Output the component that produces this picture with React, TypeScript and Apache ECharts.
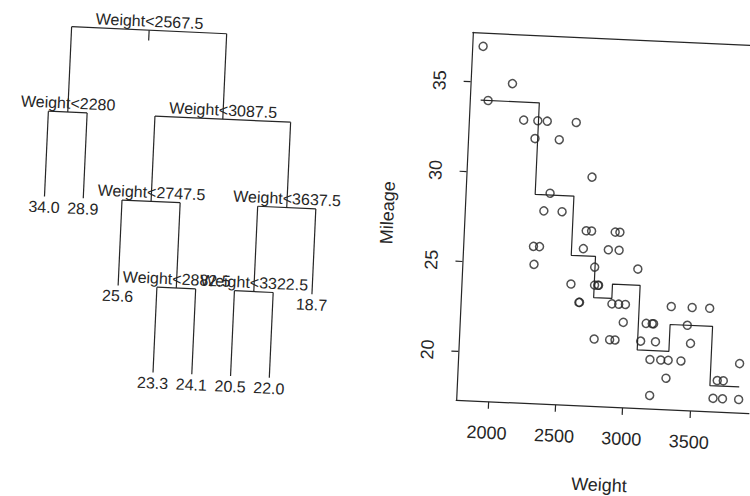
import React, { useEffect, useRef } from "react";
import * as echarts from "echarts";

// ---- Scatter data (Weight vs Mileage) ----
const weight = [
  2560, 2345, 1845, 2260, 2440, 2285, 2275, 2350, 2295, 1900, 2390, 2075, 2330,
  3320, 2885, 3310, 2695, 2170, 2710, 2775, 2840, 2485,
  2670, 2640, 2655, 3065, 2750, 2920, 2780, 2745, 3110, 2920, 2645, 2575, 2935, 2920, 2985,
  3265, 2880, 2975, 3450, 3145, 3190, 3610, 2885, 3480, 3200, 2765, 3220, 3480,
  3325, 3855, 3850,
  3195, 3735, 3665, 3735, 3415, 3185, 3690,
];
const mileage = [
  33, 33, 37, 32, 32, 26, 33, 28, 25, 34, 29, 35, 26,
  20, 27, 19, 30, 33, 27, 24, 26, 28,
  27, 23, 26, 25, 24, 26, 24, 25, 21, 21, 23, 24, 23, 27, 23,
  20, 21, 22, 22, 22, 22, 23, 23, 21, 22, 21, 21, 23,
  23, 18, 20,
  18, 18, 18, 19, 20, 20, 19,
];
const xTicks = [2000, 2500, 3000, 3500];
const yTicks = [20, 25, 30, 35];

// ---- Regression tree ----
type TNode = number | [string, TNode, TNode];
const tree: TNode = [
  "Weight<2567.5",
  ["Weight<2280", 34.0, 28.9],
  [
    "Weight<3087.5",
    ["Weight<2747.5", 25.6, ["Weight<2882.5", 23.3, 24.1]],
    ["Weight<3637.5", ["Weight<3322.5", 20.5, 22.0], 18.7],
  ],
];
const cutPoints = [2280, 2567.5, 2747.5, 2882.5, 3087.5, 3322.5, 3637.5];

const segs: number[][] = [];
const texts: { x: number; d: number; text: string; leaf: boolean }[] = [];
const leaves: number[] = [];
function place(node: TNode, depth: number): number {
  if (typeof node === "number") {
    const x = leaves.length + 1;
    leaves.push(node);
    texts.push({ x, d: depth, text: node.toFixed(1), leaf: true });
    return x;
  }
  const xl = place(node[1], depth + 1);
  const xr = place(node[2], depth + 1);
  const x = (xl + xr) / 2;
  segs.push([xl, depth, xr, depth], [xl, depth, xl, depth + 1], [xr, depth, xr, depth + 1]);
  texts.push({ x, d: depth, text: node[0], leaf: false });
  return x;
}
const rootX = place(tree, 0);
segs.push([rootX, 0, rootX, 0.12]);

const wMin = Math.min(...weight);
const wMax = Math.max(...weight);
const mMin = Math.min(...mileage);
const mMax = Math.max(...mileage);
const xPad = (wMax - wMin) * 0.04;
const yPad = (mMax - mMin) * 0.04;

const edges = [wMin, ...cutPoints, wMax];
const stepPts: number[][] = [];
leaves.forEach((m, i) => {
  stepPts.push([edges[i], m], [edges[i + 1], m]);
});

const font = "'Liberation Sans', Arial, Helvetica, sans-serif";
const ink = "#262626";

export default function App() {
  const ref = useRef<HTMLDivElement>(null);
  useEffect(() => {
    if (!ref.current) return;
    const chart = echarts.init(ref.current, undefined, { renderer: "svg" });
    const lineStyle = { color: ink, width: 1.2 };
    chart.setOption({
      animation: false,
      backgroundColor: "#ffffff",
      textStyle: { fontFamily: font },
      grid: [
        { left: 463, top: 28, width: 293, height: 368.5 },
        { left: 3.7, top: 40.7, width: 349.2, height: 341.8 },
      ],
      xAxis: [
        {
          gridIndex: 0,
          type: "value",
          min: wMin - xPad,
          max: wMax + xPad,
          position: "bottom",
          axisLine: { show: true, onZero: false, lineStyle },
          axisTick: { show: true, length: 7, customValues: xTicks, lineStyle },
          axisLabel: {
            customValues: xTicks,
            fontSize: 18,
            color: ink,
            margin: 22,
            fontFamily: font,
            formatter: (v: number) => String(v),
          },
          splitLine: { show: false },
          name: "Weight",
          nameLocation: "middle",
          nameGap: 69,
          nameTextStyle: { fontSize: 18, color: ink, fontFamily: font },
        },
        {
          gridIndex: 0,
          type: "value",
          min: wMin - xPad,
          max: wMax + xPad,
          position: "top",
          axisLine: { show: true, onZero: false, lineStyle },
          axisTick: { show: false },
          axisLabel: { show: false },
          splitLine: { show: false },
        },
        { gridIndex: 1, type: "value", min: 0, max: 9, show: false },
      ],
      yAxis: [
        {
          gridIndex: 0,
          type: "value",
          min: mMin - yPad,
          max: mMax + yPad,
          axisLine: { show: true, onZero: false, lineStyle },
          axisTick: { show: true, length: 7, customValues: yTicks, lineStyle },
          axisLabel: {
            customValues: yTicks,
            rotate: 90,
            fontSize: 18,
            color: ink,
            margin: 22,
            fontFamily: font,
            formatter: (v: number) => String(v),
          },
          splitLine: { show: false },
          name: "Mileage",
          nameLocation: "middle",
          nameGap: 68,
          nameRotate: 90,
          nameTextStyle: { fontSize: 18, color: ink, fontFamily: font },
        },
        { gridIndex: 1, type: "value", min: 0, max: 4, inverse: true, show: false },
      ],
      series: [
        {
          type: "line",
          xAxisIndex: 0,
          yAxisIndex: 0,
          data: stepPts,
          showSymbol: false,
          symbol: "none",
          lineStyle,
          silent: true,
        },
        {
          type: "scatter",
          xAxisIndex: 0,
          yAxisIndex: 0,
          data: weight.map((w, i) => [w, mileage[i]]),
          symbol: "circle",
          symbolSize: 8,
          itemStyle: { color: "rgba(0,0,0,0)", borderColor: ink, borderWidth: 1.5 },
          silent: true,
        },
        {
          type: "custom",
          xAxisIndex: 2,
          yAxisIndex: 1,
          data: segs,
          encode: { x: [0, 2], y: [1, 3] },
          silent: true,
          renderItem: (params: any, api: any) => {
            const p1 = api.coord([api.value(0), api.value(1)]);
            const p2 = api.coord([api.value(2), api.value(3)]);
            return {
              type: "line",
              shape: { x1: p1[0], y1: p1[1], x2: p2[0], y2: p2[1] },
              style: { stroke: ink, lineWidth: 1.2 },
            };
          },
        },
        {
          type: "custom",
          xAxisIndex: 2,
          yAxisIndex: 1,
          data: texts.map((t) => [t.x, t.d]),
          silent: true,
          renderItem: (params: any, api: any) => {
            const t = texts[params.dataIndex];
            const p = api.coord([t.x, t.d]);
            return {
              type: "text",
              x: p[0],
              y: t.leaf ? p[1] + 10.5 : p[1] - 9,
              style: {
                text: t.text,
                fill: ink,
                fontSize: 16,
                fontFamily: font,
                align: "center",
                verticalAlign: "middle",
              },
            };
          },
        },
      ],
    });
    return () => chart.dispose();
  }, []);

  return (
    <div
      style={{
        position: "absolute",
        left: 0,
        top: 0,
        width: 750,
        height: 496,
        overflow: "hidden",
        background: "#fff",
      }}
    >
      <div
        ref={ref}
        style={{
          position: "absolute",
          left: 0,
          top: 0,
          width: 800,
          height: 520,
          transform: "rotate(2.6deg)",
          transformOrigin: "375px 248px",
        }}
      />
    </div>
  );
}
